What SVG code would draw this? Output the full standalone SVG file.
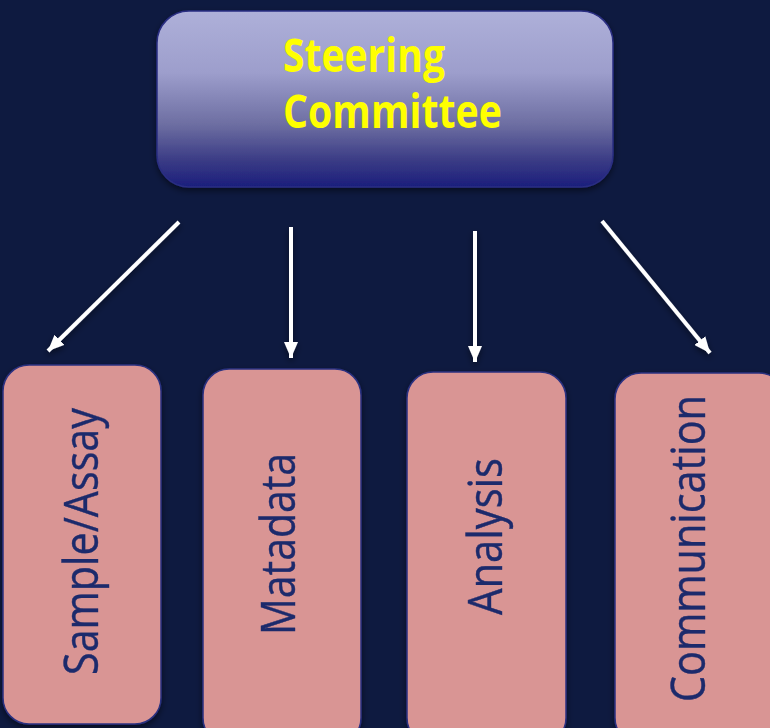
<svg xmlns="http://www.w3.org/2000/svg" width="770" height="728" viewBox="0 0 770 728">
  <defs>
    <linearGradient id="topFill" x1="0" y1="0" x2="0" y2="1">
      <stop offset="0" stop-color="#aeb0d9"/>
      <stop offset="0.35" stop-color="#9d9ecc"/>
      <stop offset="0.65" stop-color="#6c6da1"/>
      <stop offset="0.85" stop-color="#3a3b85"/>
      <stop offset="1" stop-color="#1b1e7c"/>
    </linearGradient>
    <filter id="shadow" x="-10%" y="-10%" width="120%" height="130%">
      <feDropShadow dx="0" dy="3" stdDeviation="3" flood-color="#000" flood-opacity="0.5"/>
    </filter>
    <marker id="head" viewBox="0 0 16 14" refX="16" refY="7" markerWidth="16" markerHeight="14" markerUnits="userSpaceOnUse" orient="auto">
      <path d="M0,0 L16,7 L0,14 Z" fill="#ffffff"/>
    </marker>
    <style>
      .branch rect { fill: #d99594; stroke: #2b3180; stroke-width: 1.5; }
      .branch text { font-family: "Open Sans", "Liberation Sans", sans-serif; font-size: 48px; fill: #1f2c6c; stroke: #1f2c6c; stroke-width: 0.4; }
      .title { font-family: "Open Sans", "Liberation Sans", sans-serif; font-weight: bold; font-size: 46px; fill: #ffff00; }
      .link { stroke: #ffffff; stroke-width: 4; fill: none; marker-end: url(#head); }
    </style>
  </defs>

  <!-- background -->
  <rect x="0" y="0" width="770" height="728" fill="#0e1a40"/>

  <!-- root node -->
  <g id="steering-committee">
    <rect x="157" y="11" width="456" height="176" rx="32" ry="32" fill="url(#topFill)" stroke="#2a2e82" stroke-width="1.5" filter="url(#shadow)"/>
    <text class="title" x="283" y="72" textLength="162" lengthAdjust="spacingAndGlyphs">Steering</text>
    <text class="title" x="283" y="128" textLength="219" lengthAdjust="spacingAndGlyphs">Committee</text>
  </g>

  <!-- connectors -->
  <g id="connectors" filter="url(#shadow)">
    <line class="link" x1="179" y1="222" x2="48" y2="351"/>
    <line class="link" x1="291" y1="227" x2="291" y2="358"/>
    <line class="link" x1="475" y1="231" x2="475" y2="362"/>
    <line class="link" x1="602" y1="221" x2="710" y2="353"/>
  </g>

  <!-- branch nodes -->
  <g id="sample-assay" class="branch" filter="url(#shadow)">
    <rect x="3" y="365" width="158" height="359" rx="26" ry="26"/>
    <text transform="translate(98,675) rotate(-90)" textLength="267" lengthAdjust="spacingAndGlyphs">Sample/Assay</text>
  </g>
  <g id="matadata" class="branch" filter="url(#shadow)">
    <rect x="203" y="369" width="158" height="375" rx="26" ry="26"/>
    <text transform="translate(295,635) rotate(-90)" textLength="182" lengthAdjust="spacingAndGlyphs">Matadata</text>
  </g>
  <g id="analysis" class="branch" filter="url(#shadow)">
    <rect x="407" y="372" width="159" height="372" rx="26" ry="26"/>
    <text transform="translate(502,615) rotate(-90)" textLength="157" lengthAdjust="spacingAndGlyphs">Analysis</text>
  </g>
  <g id="communication" class="branch" filter="url(#shadow)">
    <rect x="615" y="373" width="170" height="371" rx="26" ry="26"/>
    <text transform="translate(705,702) rotate(-90)" textLength="307" lengthAdjust="spacingAndGlyphs">Communication</text>
  </g>
</svg>
